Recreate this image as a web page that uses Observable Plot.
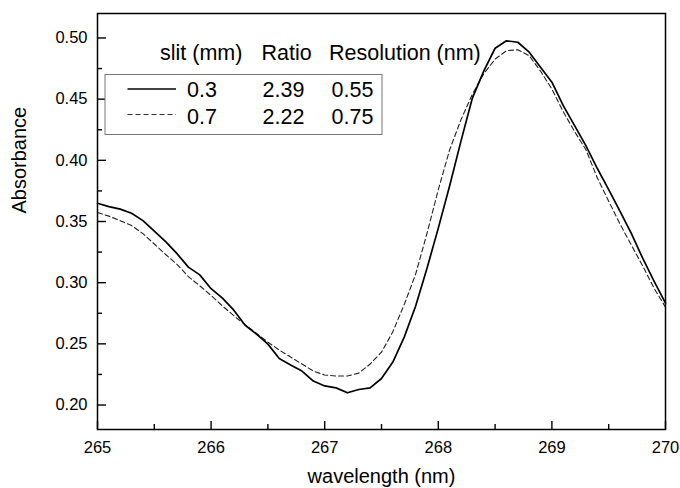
<!DOCTYPE html>
<html><head><meta charset="utf-8">
<script src="https://cdn.jsdelivr.net/npm/d3@7"></script>
<script src="https://cdn.jsdelivr.net/npm/@observablehq/plot@0.6"></script>
<style>
html,body{margin:0;padding:0;background:#fff;}
#chart{width:680px;height:488px;}
</style></head><body><div id="chart"></div>
<script>
const wavelength = [265.0,265.1,265.2,265.3,265.4,265.5,265.6,265.7,265.8,265.9,
  266.0,266.1,266.2,266.3,266.4,266.5,266.6,266.7,266.8,266.9,
  267.0,267.1,267.2,267.3,267.4,267.5,267.6,267.7,267.8,267.9,
  268.0,268.1,268.2,268.3,268.4,268.5,268.6,268.7,268.8,268.9,
  269.0,269.1,269.2,269.3,269.4,269.5,269.6,269.7,269.8,269.9,270.0];
const absSlit03 = [0.3649,0.3622,0.3601,0.3567,0.3507,0.3422,0.3335,0.3237,0.3127,0.3064,
  0.2951,0.2874,0.2775,0.2652,0.2579,0.2498,0.2381,0.2327,0.2278,0.2196,
  0.2156,0.2140,0.2100,0.2127,0.2140,0.2217,0.2351,0.2555,0.2807,0.3116,
  0.3446,0.3792,0.4159,0.4509,0.4729,0.4916,0.4977,0.4965,0.4884,0.4761,
  0.4639,0.4447,0.4283,0.4118,0.3933,0.3760,0.3582,0.3401,0.3198,0.3011,0.2832];
const absSlit07 = [0.3573,0.3544,0.3507,0.3467,0.3401,0.3316,0.3230,0.3150,0.3050,0.2975,
  0.2895,0.2810,0.2730,0.2655,0.2585,0.2514,0.2449,0.2392,0.2335,0.2278,
  0.2245,0.2237,0.2237,0.2261,0.2335,0.2432,0.2599,0.2821,0.3068,0.3401,
  0.3760,0.4086,0.4333,0.4540,0.4708,0.4827,0.4896,0.4904,0.4855,0.4729,
  0.4582,0.4397,0.4235,0.4086,0.3856,0.3666,0.3479,0.3306,0.3136,0.2954,0.2799];
const xTicks = [265,266,267,268,269,270];
const xMinor = [265.5,266.5,267.5,268.5,269.5];
const yTicks = [0.20,0.25,0.30,0.35,0.40,0.45,0.50];
const yMinor = [0.225,0.275,0.325,0.375,0.425,0.475];
const xTitle = ["wavelength (nm)"];
const yTitle = ["Absorbance"];
const legendHeader = ["slit (mm)","Ratio","Resolution (nm)"];
const slits = ["0.3","0.7"];
const ratios = ["2.39","2.22"];
const resolutions = ["0.55","0.75"];

const rows03 = wavelength.map((w,i)=>({w, a: absSlit03[i]}));
const rows07 = wavelength.map((w,i)=>({w, a: absSlit07[i]}));
const FONT = "'Liberation Sans', Arial, Helvetica, sans-serif";

const plot = Plot.plot({
  width: 680, height: 488,
  marginLeft: 97, marginRight: 15, marginTop: 13, marginBottom: 59,
  style: {fontFamily: FONT, background: "#fff", color: "#000"},
  x: {domain: [265, 270], label: null},
  y: {domain: [0.18, 0.52], label: null},
  marks: [
    Plot.axisX(xTicks, {tickSize: -8, tickPadding: 20, fontSize: 16.5, tickFormat: d3.format("d"), strokeWidth: 1.4, label: null}),
    Plot.axisX(xMinor, {tickSize: -5, tickFormat: () => "", strokeWidth: 1.4, label: null}),
    Plot.axisY(yTicks, {tickSize: -9, tickPadding: 19, fontSize: 16.5, tickFormat: d3.format(".2f"), strokeWidth: 1.4, label: null}),
    Plot.axisY(yMinor, {tickSize: -5, tickFormat: () => "", strokeWidth: 1.4, label: null}),
    Plot.line(rows07, {x: "w", y: "a", stroke: "#222", strokeWidth: 1.1, strokeDasharray: "5,3"}),
    Plot.line(rows03, {x: "w", y: "a", stroke: "#000", strokeWidth: 1.7}),
    Plot.frame({stroke: "#000", strokeWidth: 1.5}),
    Plot.text(xTitle, {text: d => d, frameAnchor: "bottom", dy: 47, fontSize: 20, lineAnchor: "middle", fill: "#000"}),
    Plot.text(yTitle, {text: d => d, frameAnchor: "left", dx: -78, dy: -8, rotate: -90, fontSize: 20, lineAnchor: "middle", fill: "#000"})
  ]
});
document.getElementById("chart").appendChild(plot);

// legend drawn into the same SVG
const svg = d3.select(plot);
const g = svg.append("g")
  .attr("font-family", FONT)
  .attr("text-anchor", "start")
  .style("font-size", "21.5px")
  .attr("fill", "#000");
g.append("rect").attr("x", 105).attr("y", 74.5).attr("width", 277).attr("height", 60)
  .attr("fill", "#fff").attr("stroke", "#777").attr("stroke-width", 1);
const headerX = [160, 261.5, 329];
legendHeader.forEach((t,i)=> g.append("text").attr("x", headerX[i]).attr("y", 59.5).text(t));
const rowY = [96.5, 123.5];
const lineY = [89, 114.5];
slits.forEach((s,i)=>{
  g.append("line").attr("x1",127.5).attr("x2",176).attr("y1",lineY[i]).attr("y2",lineY[i])
    .attr("stroke", i===0 ? "#000" : "#333").attr("stroke-width", i===0 ? 1.7 : 1.1)
    .attr("stroke-dasharray", i===0 ? null : "5,3");
  g.append("text").attr("x",187).attr("y",rowY[i]).text(s);
  g.append("text").attr("x",262.5).attr("y",rowY[i]).text(ratios[i]);
  g.append("text").attr("x",331.5).attr("y",rowY[i]).text(resolutions[i]);
});
</script></body></html>
